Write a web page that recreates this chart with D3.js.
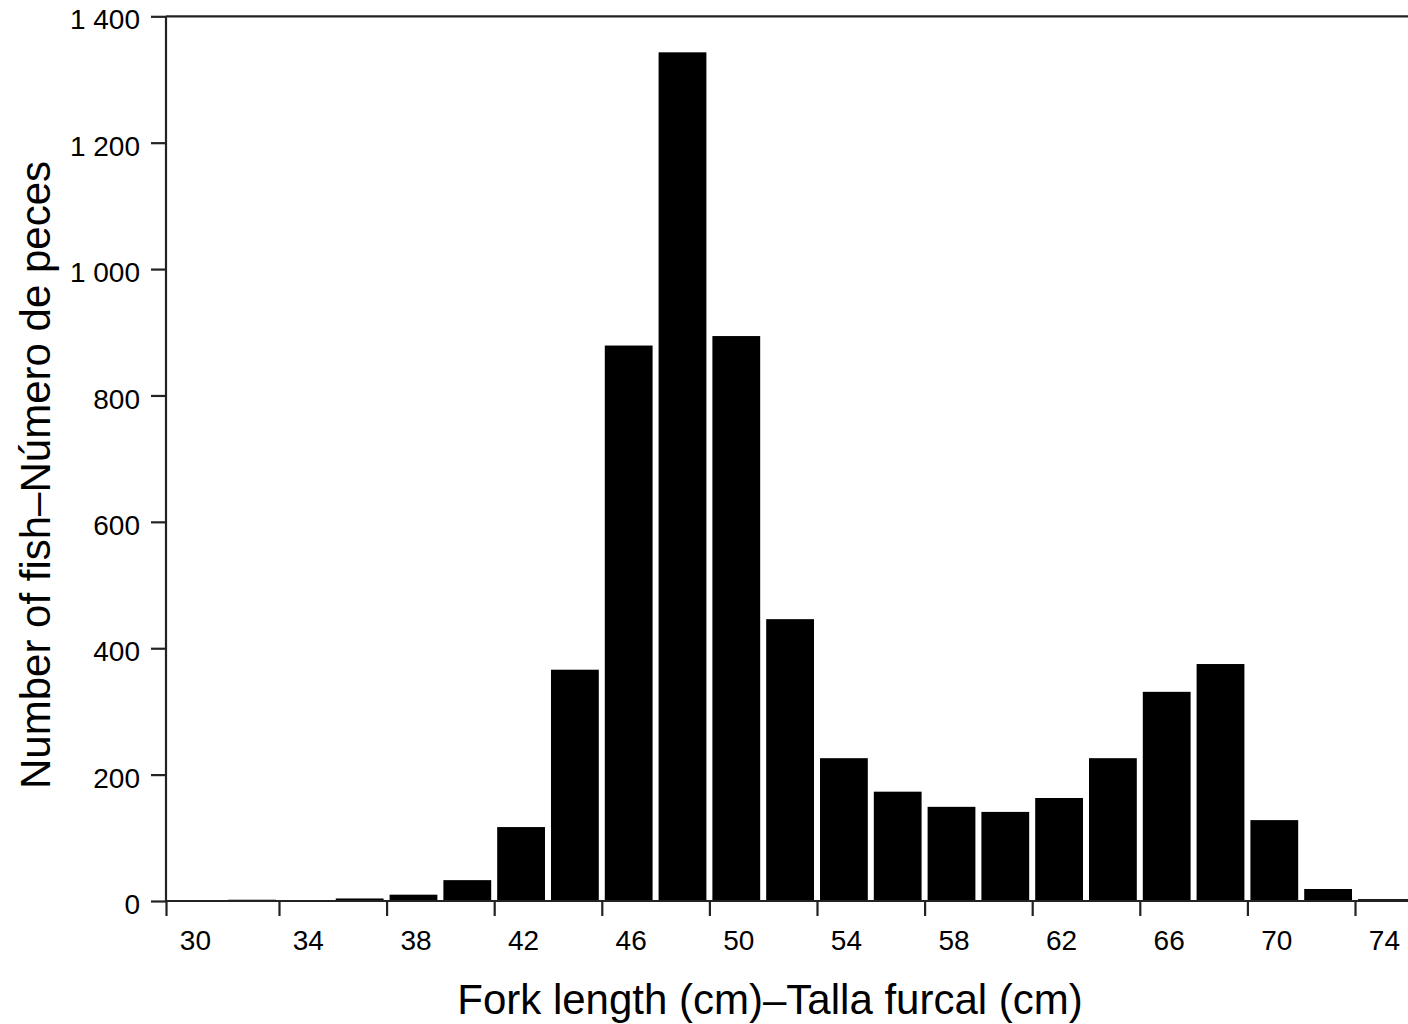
<!DOCTYPE html>
<html>
<head>
<meta charset="utf-8">
<script src="https://cdn.jsdelivr.net/npm/d3@7"></script>
<style>
  html, body { margin: 0; padding: 0; background: #fff; }
  svg { display: block; font-family: "Liberation Sans", Arial, sans-serif; }
</style>
</head>
<body>
<svg id="chart" width="1408" height="1024"></svg>
<script>
// Bin start (cm), each bin is 2 cm wide
const binStarts = [30, 32, 34, 36, 38, 40, 42, 44, 46, 48, 50, 52, 54, 56, 58, 60, 62, 64, 66, 68, 70, 72, 74];
const fishCounts = [0, 2, 0, 4, 10, 33, 117, 366, 879, 1343, 894, 446, 226, 173, 149, 141, 163, 226, 331, 375, 128, 19, 3];
const xTickValues = [30, 34, 38, 42, 46, 50, 54, 58, 62, 66, 70, 74];
const yTickValues = [0, 200, 400, 600, 800, 1000, 1200, 1400];
const yTickLabels = ["0", "200", "400", "600", "800", "1 000", "1 200", "1 400"];
const xTitle = "Fork length (cm)\u2013Talla furcal (cm)";
const yTitle = "Number of fish\u2013Número de peces";

(function () {
const svg = d3.select("#chart");
const mLeft = 166, mRight = 1408, mTop = 16.3, mBottom = 901;

const x = d3.scaleLinear().domain([29.8, 75.97]).range([mLeft, mRight]);
const y = d3.scaleLinear().domain([0, 1400]).range([mBottom, mTop]);
const binW = 2;
const gap = 3;

// bars
svg.append("g")
  .selectAll("rect")
  .data(binStarts.map((b, i) => ({ b, v: fishCounts[i] })))
  .join("rect")
  .attr("x", d => x(d.b) + gap)
  .attr("width", d => {
    const x1 = x(d.b + binW);
    return x1 > mRight ? mRight - x(d.b) - gap : x1 - x(d.b) - 2 * gap;
  })
  .attr("y", d => y(d.v))
  .attr("height", d => y(0) - y(d.v))
  .attr("fill", "#000");

// x axis
const xAxis = d3.axisBottom(x)
  .tickValues(xTickValues.map(v => v === 30 ? 29.8 : v))
  .tickSize(15)
  .tickFormat(v => String(Math.round(v)));
const gx = svg.append("g").attr("transform", `translate(0,${mBottom})`).call(xAxis);
gx.select(".domain").attr("d", `M${mLeft},0H${mRight}`).attr("stroke", "#222").attr("stroke-width", 2.2);
gx.selectAll(".tick line").attr("stroke", "#222").attr("stroke-width", 2.2);
gx.selectAll(".tick text")
  .attr("font-size", 28)
  .attr("fill", "#000")
  .attr("y", 29)
  .attr("dy", "0.71em")
  .attr("dx", x(31) - x(30) + 2)
  .attr("font-family", "'Liberation Sans', Arial, sans-serif");

// y axis
const yAxis = d3.axisLeft(y)
  .tickValues(yTickValues)
  .tickSize(15)
  .tickFormat((v, i) => yTickLabels[i]);
const gy = svg.append("g").attr("transform", `translate(${mLeft},0)`).call(yAxis);
gy.select(".domain").attr("d", `M0,${mBottom}V${mTop}`).attr("stroke", "#222").attr("stroke-width", 2.2);
gy.selectAll(".tick line").attr("stroke", "#222").attr("stroke-width", 2.2);
gy.selectAll(".tick text")
  .attr("font-size", 28)
  .attr("fill", "#000")
  .attr("x", -26)
  .attr("dy", "0.45em")
  .attr("font-family", "'Liberation Sans', Arial, sans-serif");

// top frame line
svg.append("line")
  .attr("x1", mLeft).attr("x2", mRight)
  .attr("y1", y(1400)).attr("y2", y(1400))
  .attr("stroke", "#222").attr("stroke-width", 2.2);

// axis titles
svg.append("text")
  .attr("x", 770).attr("y", 1014)
  .attr("text-anchor", "middle")
  .attr("font-size", 42)
  .attr("fill", "#000")
  .text(xTitle);

svg.append("text")
  .attr("transform", `translate(50,475) rotate(-90)`)
  .attr("text-anchor", "middle")
  .attr("font-size", 42)
  .attr("fill", "#000")
  .text(yTitle);
})();
</script>
</body>
</html>
